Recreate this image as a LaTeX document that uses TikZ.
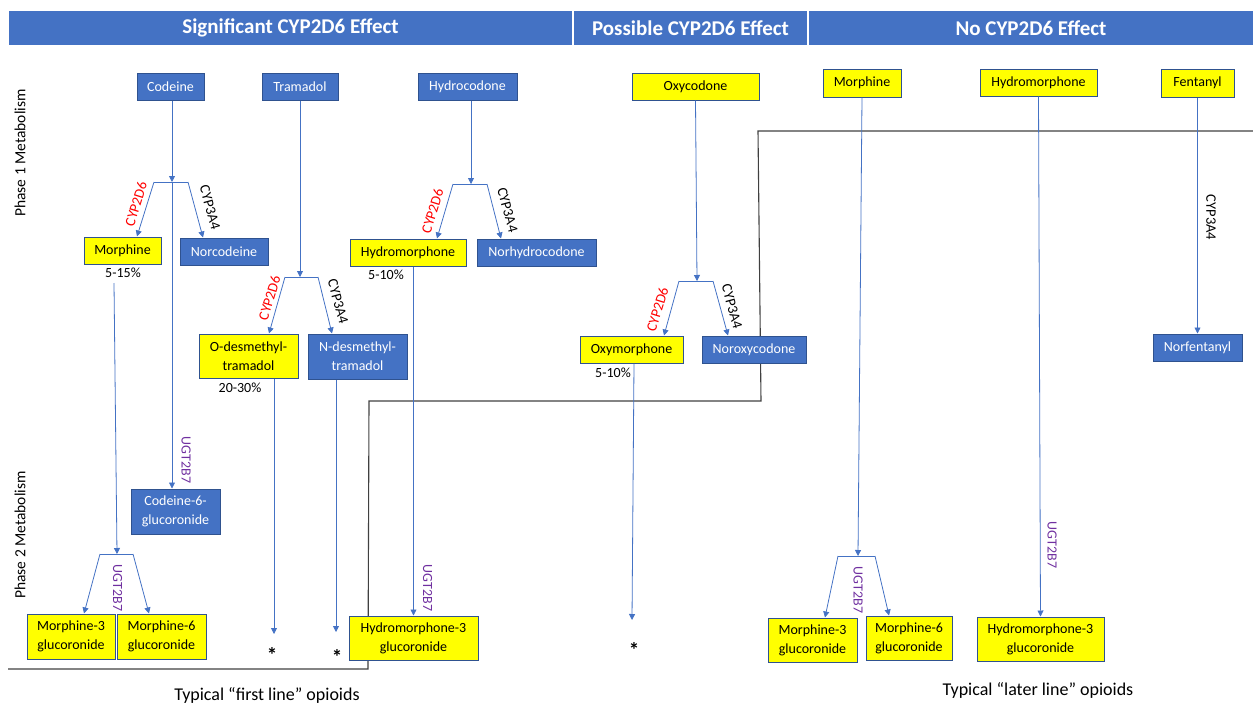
\documentclass[tikz,border=0pt]{standalone}
\usepackage{fontspec}
\setmainfont{Carlito}
\usetikzlibrary{arrows.meta}
\definecolor{cblue}{HTML}{4472C4}
\definecolor{bord}{HTML}{2F528F}
\definecolor{cyel}{HTML}{FFFF00}
\definecolor{cline}{HTML}{4472C4}
\definecolor{cpurple}{HTML}{7030A0}
\definecolor{csep}{HTML}{404040}
\begin{document}
\begin{tikzpicture}[x=1pt,y=-1pt,
  every node/.style={font=\fontsize{14}{19}\selectfont},
  bbox/.style={draw=bord, fill=cblue, text=white, line width=1pt, inner sep=0pt, align=center},
  ybox/.style={draw=bord, fill=cyel, text=black, line width=1pt, inner sep=0pt, align=center},
  flow/.style={draw=cline, line width=0.8pt},
  arr/.style={flow, -{Triangle[width=6pt,length=6pt]}},
  enzA/.style={text=red, font=\fontsize{14.5}{15}\selectfont, inner sep=0pt},
  enzB/.style={text=black, font=\fontsize{14.5}{15}\selectfont, inner sep=0pt},
  ugt/.style={text=cpurple, rotate=-90, font=\fontsize{14}{15}\selectfont, inner sep=0pt},
  pct/.style={font=\fontsize{14}{15}\selectfont, inner sep=0pt},
  star/.style={font=\fontsize{21}{21}\selectfont\bfseries, inner sep=0pt},
  sepline/.style={draw=csep, line width=1.1pt},
  hdr/.style={fill=cblue, text=white, font=\fontsize{21}{24}\selectfont\bfseries, inner sep=0pt, minimum height=34},
  phase/.style={rotate=90, font=\fontsize{15.5}{16}\selectfont, inner sep=0pt},
  foot/.style={font=\fontsize{18}{20}\selectfont, inner sep=0pt}
]
\useasboundingbox (0,0) rectangle (1253,704);

% headers
\node[hdr, minimum width=563] (h1) at (290.5,28) {Significant CYP2D6 Effect};
\node[hdr, minimum width=233] (h2) at (690.5,28) {Possible CYP2D6 Effect};
\node[hdr, minimum width=444] (h3) at (1031,28) {No CYP2D6 Effect};

% phase labels
\node[phase] (p1) at (20,153) {Phase 1 Metabolism};
\node[phase] (p2) at (20,535) {Phase 2 Metabolism};

% separator lines
\coordinate (s1) at (1253,131);
\coordinate (s2) at (758,131);
\coordinate (s3) at (761,401);
\coordinate (s4) at (369,401);
\coordinate (s5) at (368,669);
\coordinate (s6) at (8,669);
\draw[sepline] (s1) -- (s2) -- (s3) -- (s4) -- (s5) -- (s6);

% top drugs
\node[bbox, minimum width=67, minimum height=27] (codeine) at (170.5,86.5) {Codeine};
\node[bbox, minimum width=76, minimum height=27] (tramadol) at (300,86.5) {Tramadol};
\node[bbox, minimum width=99, minimum height=27] (hydrocodone) at (467.5,86.5) {Hydrocodone};
\node[ybox, minimum width=127, minimum height=27] (oxycodone) at (695.5,86.5) {Oxycodone};
\node[ybox, minimum width=78, minimum height=28] (morphR) at (862,83) {Morphine};
\node[ybox, minimum width=117, minimum height=27] (hydroR) at (1038.5,82.5) {Hydromorphone};
\node[ybox, minimum width=73, minimum height=28] (fent) at (1197.5,83) {Fentanyl};

% phase 1 products
\node[ybox, minimum width=77, minimum height=27] (morphL) at (122.5,250.5) {Morphine};
\node[bbox, minimum width=88, minimum height=27] (norcod) at (224,251.5) {Norcodeine};
\node[ybox, minimum width=99, minimum height=44] (odt) at (248.5,356) {O-desmethyl-\\tramadol};
\node[bbox, minimum width=99, minimum height=45] (ndt) at (357.5,356.5) {N-desmethyl-\\tramadol};
\node[ybox, minimum width=116, minimum height=27] (hydroL) at (408,252.5) {Hydromorphone};
\node[bbox, minimum width=119, minimum height=27] (norhyd) at (536.5,252.5) {Norhydrocodone};
\node[ybox, minimum width=103, minimum height=27] (oxym) at (631.5,349.5) {Oxymorphone};
\node[bbox, minimum width=104, minimum height=27] (noroxy) at (754,349.5) {Noroxycodone};
\node[bbox, minimum width=89, minimum height=27] (norfent) at (1197.5,347.5) {Norfentanyl};

% phase 2 products
\node[bbox, minimum width=89, minimum height=45] (c6g) at (175.5,511.5) {Codeine-6-\\glucoronide};
\node[ybox, minimum width=88, minimum height=45] (m3gL) at (71,636.5) {Morphine-3\\glucoronide};
\node[ybox, minimum width=89, minimum height=45] (m6gL) at (161.5,636.5) {Morphine-6\\glucoronide};
\node[ybox, minimum width=129, minimum height=44] (h3gL) at (413.5,638) {Hydromorphone-3\\glucoronide};
\node[ybox, minimum width=89, minimum height=44] (m3gR) at (812.5,640) {Morphine-3\\glucoronide};
\node[ybox, minimum width=86, minimum height=44] (m6gR) at (909,638) {Morphine-6\\glucoronide};
\node[ybox, minimum width=127, minimum height=44] (h3gR) at (1040.5,639) {Hydromorphone-3\\glucoronide};

% percentages and stars
\node[pct] (pc1) at (123,273) {5-15\%};
\node[pct] (pc2) at (386,275) {5-10\%};
\node[pct] (pc3) at (240,388) {20-30\%};
\node[pct] (pc4) at (613,373) {5-10\%};
\node[star] (st1) at (272,655) {*};
\node[star] (st2) at (337,657) {*};
\node[star] (st3) at (634,650) {*};

% branch coordinates
\coordinate (cb) at (172,182);  \coordinate (cbl) at (154,182); \coordinate (cbr) at (188,182);
\coordinate (tb) at (300,277);  \coordinate (tbl) at (285,277); \coordinate (tbr) at (318,277);
\coordinate (hb) at (471,184);  \coordinate (hbl) at (453,184); \coordinate (hbr) at (487,184);
\coordinate (ob) at (697,281);  \coordinate (obl) at (679,281); \coordinate (obr) at (713,281);
\coordinate (mb) at (117,554);  \coordinate (mbl) at (100,554); \coordinate (mbr) at (133,554);
\coordinate (rb) at (858,556);  \coordinate (rbl) at (838,556); \coordinate (rbr) at (875,556);
\coordinate (a1) at (274,634); \coordinate (a2) at (336,632); \coordinate (a3) at (632,620);
\coordinate (m0) at (114,283);

% bars
\draw[flow] (cbl) -- (cbr);
\draw[flow] (tbl) -- (tbr);
\draw[flow] (hbl) -- (hbr);
\draw[flow] (obl) -- (obr);
\draw[flow] (mbl) -- (mbr);
\draw[flow] (rbl) -- (rbr);

% codeine
\draw[arr] (codeine.south -| cb) -- (cb);
\draw[arr] (cbl) -- ([xshift=14.5pt]morphL.north);
\draw[arr] (cbr) -- ([xshift=-21pt]norcod.north);
\draw[arr] (cb) -- (cb |- c6g.north);
% tramadol
\draw[arr] (tramadol.south -| tb) -- (tb);
\draw[arr] (tbl) -- ([xshift=20.5pt]odt.north);
\draw[arr] (tbr) -- ([xshift=-25.5pt]ndt.north);
\draw[arr] (odt.south -| a1) -- (a1);
\draw[arr] (ndt.south -| a2) -- (a2);
% hydrocodone
\draw[arr] (hydrocodone.south -| hb) -- (hb);
\draw[arr] (hbl) -- ([xshift=29pt]hydroL.north);
\draw[arr] (hbr) -- ([xshift=-35.5pt]norhyd.north);
\draw[arr] (hydroL.south -| h3gL.north) -- (h3gL.north);
% oxycodone
\draw[arr] (oxycodone.south) -- (ob);
\draw[arr] (obl) -- ([xshift=32.5pt]oxym.north);
\draw[arr] (obr) -- ([xshift=-26pt]noroxy.north);
\draw[arr] ([xshift=2.5pt]oxym.south) -- (a3);
% morphine left phase 2
\draw[arr] (m0) -- (mb);
\draw[arr] (mbl) -- ([xshift=13pt]m3gL.north);
\draw[arr] (mbr) -- ([xshift=-12.5pt]m6gL.north);
% right column
\draw[arr] (morphR.south) -- (rb);
\draw[arr] (rbl) -- ([xshift=12.5pt]m3gR.north);
\draw[arr] (rbr) -- ([xshift=-20pt]m6gR.north);
\draw[arr] (hydroR.south) -- (h3gR.north);
\draw[arr] (fent.south) -- (norfent.north);

% enzyme labels
\node[enzA, rotate=72.8] (e1) at (136,204) {CYP2D6};
\node[enzB, rotate=-74.7] (e2) at (210,207.5) {CYP3A4};
\node[enzA, rotate=72.8] (e3) at (269.5,298) {CYP2D6};
\node[enzB, rotate=-74.7] (e4) at (338,301.5) {CYP3A4};
\node[enzA, rotate=72.8] (e5) at (432.5,211) {CYP2D6};
\node[enzB, rotate=-74.7] (e6) at (507.5,210) {CYP3A4};
\node[enzA, rotate=72.8] (e7) at (657.5,309.5) {CYP2D6};
\node[enzB, rotate=-74.7] (e8) at (732,306.5) {CYP3A4};
\node[enzB, rotate=-90] (e9) at (1211,217.5) {CYP3A4};
\node[ugt] (u1) at (186,460) {UGT2B7};
\node[ugt] (u2) at (117.5,588) {UGT2B7};
\node[ugt] (u3) at (427.5,588) {UGT2B7};
\node[ugt] (u4) at (858,590) {UGT2B7};
\node[ugt] (u5) at (1052,545) {UGT2B7};

% footers
\node[foot] (f1) at (267,695) {Typical “first line” opioids};
\node[foot] (f2) at (1038,690) {Typical “later line” opioids};
\end{tikzpicture}
\end{document}
